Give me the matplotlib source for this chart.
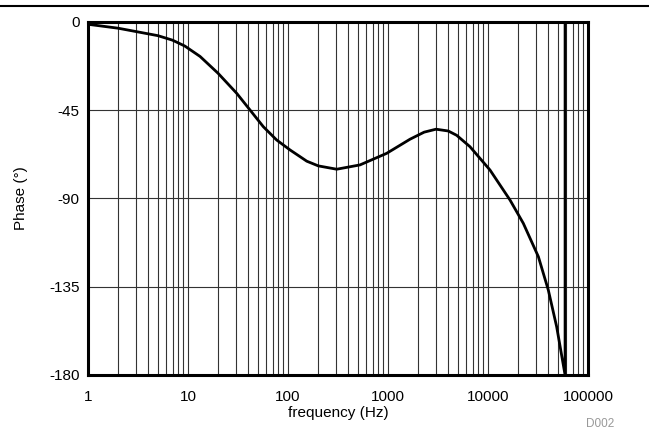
import numpy as np
import matplotlib
matplotlib.use('Agg')
import matplotlib.pyplot as plt
from matplotlib.lines import Line2D

plt.rcParams['font.family'] = ['Liberation Sans', 'DejaVu Sans']

# valori (la fase salta da -180 a +180 vicino a 59 kHz)
freq = [1, 2, 5, 7, 9.3, 13.2, 20, 30.7, 41.7, 56.6, 77, 105, 132, 154, 201, 307,
        525, 970, 1660, 2300, 3020, 4000, 4860, 6600, 10470, 16600, 22560,
        31900, 40100, 48600, 59000, 59001, 59002]
phase = [-1.2, -3.2, -7.0, -9.3, -12.3, -17.6, -26.2, -36.4, -44.9, -53.4, -60.2,
         -65.3, -68.7, -71.0, -73.4, -75.1, -72.9, -67, -59.8, -56.2, -54.7, -55.6,
         -57.8, -63.6, -75.5, -90.8, -102.7, -119.7, -136.7, -155.4, -180, 180, 179]

yticks = [0, -45, -90, -135, -180]
xticks = [1, 10, 100, 1000, 10000, 100000]

fig = plt.figure(figsize=(6.49, 4.30), dpi=100)
ax = fig.add_axes([0.1356, 0.128, 0.7704, 0.821])

ax.plot(freq, phase, color='black', lw=2, solid_joinstyle='round')
ax.set_xscale('log')
ax.set_xlim(1, 100000)
ax.set_ylim(-180, 0)
ax.set_yticks(yticks)
ax.set_yticklabels([str(v) for v in yticks])
ax.set_xticks(xticks)
ax.set_xticklabels([str(v) for v in xticks])
ax.set_xticks([m * 10**d for d in range(5) for m in range(2, 10)], minor=True)
ax.xaxis.set_minor_formatter(matplotlib.ticker.NullFormatter())

ax.grid(True, which='both', axis='x', color='#333333', lw=0.8)
ax.grid(True, which='major', axis='y', color='#333333', lw=0.8)
ax.tick_params(which='both', length=0, labelsize=11, colors='black')
ax.tick_params(axis='x', pad=11)
ax.tick_params(axis='y', pad=6)
for s in ax.spines.values():
    s.set_linewidth(2.2)

ax.set_xlabel('frequency (Hz)', fontsize=11, labelpad=1)
ax.set_ylabel('Phase (°)', fontsize=11, labelpad=15)

fig.add_artist(Line2D([0, 1], [1 - 6 / 430, 1 - 6 / 430], color='black', lw=1.5))
fig.text(600 / 649, 1 - 418 / 430, 'D002', fontsize=8.5, color='#999999',
         ha='center', va='top')

fig.savefig('out.png', dpi=100)
